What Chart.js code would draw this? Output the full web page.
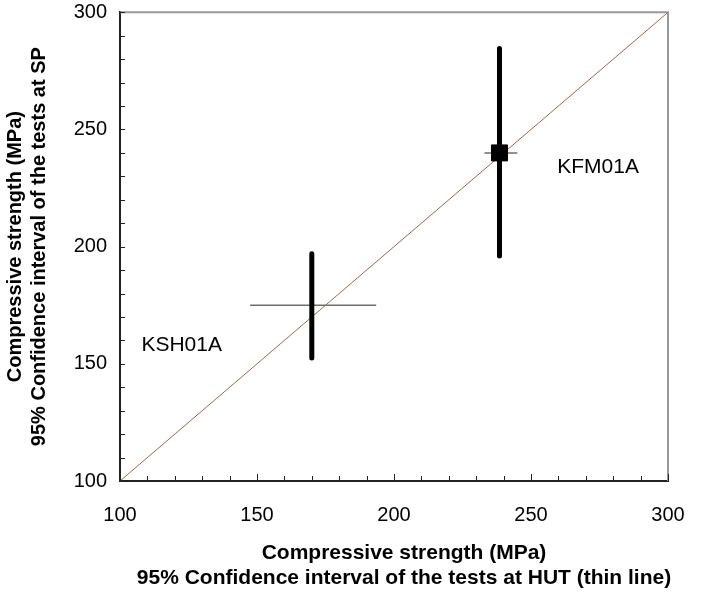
<!DOCTYPE html>
<html>
<head>
<meta charset="utf-8">
<script src="https://cdn.jsdelivr.net/npm/chart.js@4"></script>
<style>
  body { margin: 0; background: #fff; }
  #wrap { width: 704px; height: 592px; }
</style>
</head>
<body>
<div id="wrap"><canvas id="strengthChart" width="704" height="592"></canvas></div>
<script>
// core sites and their 95% confidence intervals (MPa)
const sites = ['KSH01A', 'KFM01A'];
const hutLow = [147.5, 233];
const hutHigh = [193.5, 245];
const hutMid = [170, 238.5];
const spLow = [152.5, 196];
const spHigh = [197, 284.5];
const spMid = [175, 240];
const markedSites = ['KFM01A'];
// where the site names are written, in axis units
const siteLabelX = [122.5, 274.5];
const siteLabelY = [158, 234];
const axisMin = 100;
const axisMax = 300;
const xTitle = ['Compressive strength (MPa)', '95% Confidence interval of the tests at HUT (thin line)'];
const yTitle = ['Compressive strength (MPa)', '95% Confidence interval of the tests at SP'];

const FONT = "'Liberation Sans', Arial, sans-serif";

let datasets = [];

// 1:1 reference line
datasets.push({
    label: '1:1',
    data: [{x: axisMin, y: axisMin}, {x: axisMax, y: axisMax}],
    showLine: true,
    borderColor: '#a8653f',
    borderWidth: 1,
    pointRadius: 0,
    order: 5
});

sites.forEach(function (site, i) {
    // HUT interval, thin horizontal line
    datasets.push({
        label: site + ' HUT',
        data: [{x: hutLow[i], y: spMid[i]}, {x: hutHigh[i], y: spMid[i]}],
        showLine: true,
        borderColor: '#6e6e6e',
        borderWidth: 1.5,
        pointRadius: 0,
        order: 4
    });
    // SP interval, thick vertical line
    datasets.push({
        label: site + ' SP',
        data: [{x: hutMid[i], y: spLow[i]}, {x: hutMid[i], y: spHigh[i]}],
        showLine: true,
        borderColor: '#000',
        borderWidth: 5,
        borderCapStyle: 'round',
        pointRadius: 0,
        order: 3
    });
    if (markedSites.indexOf(site) >= 0) {
        datasets.push({
            label: site + ' mean',
            data: [{x: hutMid[i], y: spMid[i]}],
            pointStyle: 'rect',
            pointRadius: 11.3,
            backgroundColor: '#000',
            borderColor: '#000',
            order: 1
        });
    }
});

// frame, inward tick marks, site names and the x title
const decorations = {
    id: 'decorations',
    afterDatasetsDraw(chart) {
        const c = chart.ctx;
        const a = chart.chartArea;
        const xs = chart.scales.x;
        const ys = chart.scales.y;
        c.save();
        c.strokeStyle = '#999';
        c.lineWidth = 2;
        c.beginPath();
        c.moveTo(a.left, a.top);
        c.lineTo(a.right, a.top);
        c.lineTo(a.right, a.bottom);
        c.stroke();

        c.strokeStyle = '#222';
        c.lineWidth = 1;
        for (let v = axisMin; v <= axisMax; v += 10) {
            const len = v % 50 === 0 ? 7 : 5;
            const px = Math.round(xs.getPixelForValue(v)) + 0.5;
            c.beginPath();
            c.moveTo(px, a.bottom);
            c.lineTo(px, a.bottom - len);
            c.stroke();
            const py = Math.round(ys.getPixelForValue(v)) + 0.5;
            c.beginPath();
            c.moveTo(a.left, py);
            c.lineTo(a.left + 5, py);
            c.stroke();
        }

        c.fillStyle = '#000';
        c.font = '21px ' + FONT;
        c.textAlign = 'center';
        c.textBaseline = 'middle';
        sites.forEach(function (site, i) {
            c.fillText(site, xs.getPixelForValue(siteLabelX[i]), ys.getPixelForValue(siteLabelY[i]));
        });

        c.font = 'bold 21px ' + FONT;
        const cx = (a.left + a.right) / 2 + 10;
        xTitle.forEach(function (line, i) {
            c.fillText(line, cx, a.bottom + 72 + i * 25);
        });
        c.restore();
    }
};

const tickLabel = function (v) {
    return v % 50 === 0 ? v : '';
};

new Chart(document.getElementById('strengthChart'), {
    type: 'scatter',
    data: {datasets: datasets},
    options: {
        responsive: false,
        animation: false,
        layout: {padding: {top: 10, right: 36, left: 2, bottom: 2}},
        plugins: {
            legend: {display: false},
            tooltip: {enabled: false}
        },
        scales: {
            x: {
                min: axisMin,
                max: axisMax,
                afterFit(scale) {
                    scale.height = 109;
                    scale.paddingLeft = 0;
                    scale.paddingRight = 0;
                },
                grid: {drawOnChartArea: false, drawTicks: false},
                border: {color: '#222', width: 2},
                ticks: {
                    stepSize: 10,
                    autoSkip: false,
                    maxRotation: 0,
                    padding: 24,
                    color: '#000',
                    font: {family: FONT, size: 20, lineHeight: 1},
                    callback: tickLabel
                },
                title: {display: false}
            },
            y: {
                min: axisMin,
                max: axisMax,
                afterFit(scale) {
                    scale.width = 118;
                    scale.paddingTop = 0;
                    scale.paddingBottom = 0;
                },
                grid: {drawOnChartArea: false, drawTicks: false},
                border: {color: '#222', width: 2},
                ticks: {
                    stepSize: 10,
                    autoSkip: false,
                    padding: 13,
                    color: '#000',
                    font: {family: FONT, size: 20, lineHeight: 1},
                    callback: tickLabel
                },
                title: {
                    display: true,
                    text: yTitle,
                    color: '#000',
                    font: {family: FONT, size: 20, weight: 'bold', lineHeight: 1.2},
                    padding: {top: 1, bottom: 20}
                }
            }
        }
    },
    plugins: [decorations]
});
</script>
</body>
</html>
